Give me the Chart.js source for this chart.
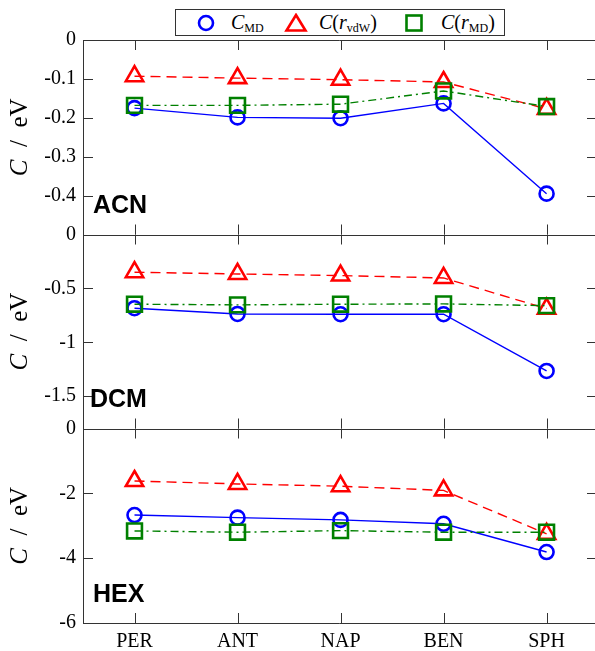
<!DOCTYPE html>
<html>
<head>
<meta charset="utf-8">
<script src="https://cdn.jsdelivr.net/npm/chart.js@4.4.0/dist/chart.umd.min.js"></script>
<style>
  body { margin: 0; background: #fff; }
  #wrap { position: relative; width: 595px; height: 651px; overflow: hidden; }
  #wrap canvas { position: absolute; left: 0; top: 0; }
  #legend { position: absolute; left: 175px; top: 9px; width: 328px; height: 25px; border: 1px solid #333;
            background: #fff; font-family: "Liberation Serif", serif; font-size: 20px; z-index: 5; }
  #legend .it { position: absolute; top: 0; height: 25px; line-height: 25px; white-space: nowrap; }
  #legend svg { position: absolute; top: 3px; }
  #legend sub { font-size: 12px; vertical-align: -3px; line-height: 0; }
</style>
</head>
<body>
<div id="wrap">
  <canvas id="c1" width="595" height="651"></canvas>
  <canvas id="c2" width="595" height="651"></canvas>
  <canvas id="c3" width="595" height="651"></canvas>
  <div id="legend">
    <svg style="left:20px" width="20" height="20"><circle cx="10" cy="10" r="7" fill="none" stroke="#0000ff" stroke-width="2.6"/></svg>
    <span class="it" style="left:55px"><i>C</i><sub>MD</sub></span>
    <svg style="left:108px" width="24" height="20"><polygon points="12,2 21.5,17.5 2.5,17.5" fill="none" stroke="#ff0000" stroke-width="2.6"/></svg>
    <span class="it" style="left:143px"><i>C</i>(<i>r</i><sub>vdW</sub>)</span>
    <svg style="left:228px" width="20" height="20"><rect x="2.5" y="2.5" width="15" height="15" fill="none" stroke="#008000" stroke-width="2.6"/></svg>
    <span class="it" style="left:265px"><i>C</i>(<i>r</i><sub>MD</sub>)</span>
  </div>
</div>
<script>
const categories = ['PER', 'ANT', 'NAP', 'BEN', 'SPH'];

// ACN
const acnMD  = [-0.175, -0.199, -0.201, -0.163, -0.395];
const acnVdw = [-0.093, -0.098, -0.102, -0.108, -0.177];
const acnRmd = [-0.168, -0.168, -0.165, -0.131, -0.171];
// DCM
const dcmMD  = [-0.684, -0.737, -0.740, -0.740, -1.266];
const dcmVdw = [-0.350, -0.366, -0.381, -0.403, -0.688];
const dcmRmd = [-0.647, -0.653, -0.647, -0.644, -0.660];
// HEX
const hexMD  = [-2.67, -2.75, -2.82, -2.94, -3.81];
const hexVdw = [-1.62, -1.71, -1.78, -1.91, -3.25];
const hexRmd = [-3.16, -3.20, -3.15, -3.20, -3.20];

const acnTicks = [0, -0.1, -0.2, -0.3, -0.4];
const dcmTicks = [0, -0.5, -1, -1.5];
const hexTicks = [0, -2, -4, -6];

const serif = '"Liberation Serif", "DejaVu Serif", serif';
const axisColor = '#333333';

function pts(vals) {
    return vals.map((v, i) => ({ x: i + 1, y: v }));
}

// matlab style box, inward ticks, panel label and y title
const boxPlugin = {
    id: 'box',
    afterDraw(chart, args, opts) {
        const ctx = chart.ctx;
        const a = chart.chartArea;
        const x = chart.scales.x, y = chart.scales.y;
        ctx.save();
        ctx.strokeStyle = axisColor;
        ctx.lineWidth = 1;
        ctx.beginPath();
        ctx.moveTo(a.right + 5, Math.round(a.top) + 0.5);
        ctx.lineTo(Math.round(a.left) + 0.5, Math.round(a.top) + 0.5);
        ctx.lineTo(Math.round(a.left) + 0.5, Math.round(a.bottom) + 0.5);
        ctx.lineTo(a.right + 5, Math.round(a.bottom) + 0.5);
        // x ticks, top and bottom
        categories.forEach((c, i) => {
            const px = Math.round(x.getPixelForValue(i + 1)) + 0.5;
            ctx.moveTo(px, a.bottom); ctx.lineTo(px, a.bottom - 10);
            ctx.moveTo(px, a.top); ctx.lineTo(px, a.top + 10);
        });
        // y ticks, left and right
        opts.ticks.forEach(v => {
            const py = Math.round(y.getPixelForValue(v)) + 0.5;
            ctx.moveTo(a.left, py); ctx.lineTo(a.left + 10, py);
            ctx.moveTo(a.right, py); ctx.lineTo(a.right - 8, py);
        });
        ctx.stroke();

        // panel label
        ctx.fillStyle = '#000';
        ctx.font = 'bold 25px "Liberation Sans", Arial, sans-serif';
        ctx.textBaseline = 'middle';
        ctx.textAlign = 'left';
        ctx.fillText(opts.label, a.left + opts.labelDx, a.bottom - 28);

        // y title "C / eV"
        ctx.translate(20, (a.top + a.bottom) / 2);
        ctx.rotate(-Math.PI / 2);
        ctx.font = 'italic 25px ' + serif;
        const w1 = ctx.measureText('C').width;
        ctx.font = '25px ' + serif;
        const rest = '  /  eV';
        const w2 = ctx.measureText(rest).width;
        let sx = -(w1 + w2) / 2;
        ctx.font = 'italic 25px ' + serif;
        ctx.fillText('C', sx, 0);
        ctx.font = '25px ' + serif;
        ctx.fillText(rest, sx + w1, 0);
        ctx.restore();
    }
};

function makePanel(id, md, vdw, rmd, ticks, yMin, padTop, padBottom, xHeight, label, labelDx) {
    const fmt = v => String(v);
    new Chart(document.getElementById(id).getContext('2d'), {
        type: 'line',
        data: {
            datasets: [{
                data: pts(md),
                borderColor: '#0000ff',
                borderWidth: 1.4,
                pointStyle: 'circle',
                pointRadius: 7,
                pointBorderWidth: 2.6,
                pointBackgroundColor: 'rgba(0,0,0,0)',
                pointBorderColor: '#0000ff',
                order: 3
            }, {
                data: pts(vdw),
                borderColor: '#ff0000',
                borderWidth: 1.4,
                borderDash: [10, 6],
                pointStyle: 'triangle',
                pointRadius: 10,
                pointBorderWidth: 2.6,
                pointBackgroundColor: 'rgba(0,0,0,0)',
                pointBorderColor: '#ff0000',
                order: 2
            }, {
                data: pts(rmd),
                borderColor: '#008000',
                borderWidth: 1.4,
                borderDash: [8, 4, 2, 4],
                pointStyle: 'rect',
                pointRadius: 10.5,
                pointBorderWidth: 2.6,
                pointBackgroundColor: 'rgba(0,0,0,0)',
                pointBorderColor: '#008000',
                order: 1
            }]
        },
        options: {
            responsive: false,
            devicePixelRatio: 1,
            animation: false,
            clip: false,
            layout: { autoPadding: false, padding: { left: 0, right: 0, top: padTop, bottom: padBottom } },
            plugins: {
                legend: { display: false },
                tooltip: { enabled: false },
                box: { ticks: ticks, label: label, labelDx: labelDx }
            },
            scales: {
                x: {
                    type: 'linear',
                    min: 0.5,
                    max: 5.47,
                    grid: { display: false, drawTicks: false },
                    border: { display: false },
                    afterBuildTicks: s => { s.ticks = categories.map((c, i) => ({ value: i + 1 })); },
                    afterFit: s => { s.height = xHeight; },
                    ticks: {
                        display: xHeight > 0,
                        autoSkip: false,
                        maxRotation: 0,
                        padding: 7,
                        color: '#000',
                        font: { family: serif, size: 20 },
                        callback: v => categories[v - 1]
                    }
                },
                y: {
                    min: yMin,
                    max: 0,
                    grid: { display: false, drawTicks: false },
                    border: { display: false },
                    afterBuildTicks: s => { s.ticks = ticks.map(v => ({ value: v })); },
                    afterFit: s => { s.width = 83; },
                    ticks: {
                        autoSkip: false,
                        padding: 7,
                        color: '#000',
                        font: { family: serif, size: 20 },
                        callback: fmt
                    }
                }
            }
        },
        plugins: [boxPlugin]
    });
}

makePanel('c1', acnMD, acnVdw, acnRmd, acnTicks, -0.5, 40, 416.5, 0, 'ACN', 10);
makePanel('c2', dcmMD, dcmVdw, dcmRmd, dcmTicks, -1.8, 234.5, 222.5, 0, 'DCM', 7);
makePanel('c3', hexMD, hexVdw, hexRmd, hexTicks, -6, 428.5, 0, 28, 'HEX', 10);
</script>
</body>
</html>
